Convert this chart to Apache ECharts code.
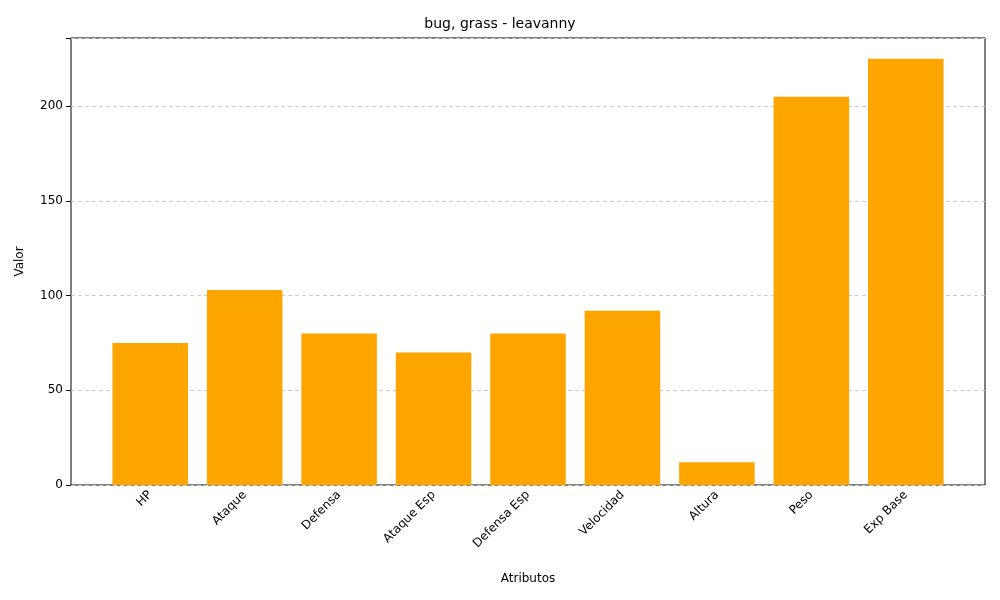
<!DOCTYPE html><html><head><meta charset="utf-8"><script src="https://cdn.jsdelivr.net/npm/echarts@6/dist/echarts.min.js"></script></head><body style="margin:0"><div id="c" style="width:1000px;height:600px"></div><script>
const categories=["HP","Ataque","Defensa","Ataque Esp","Defensa Esp","Velocidad","Altura","Peso","Exp Base"];
const values=[75,103,80,70,80,92,12,205,225];
const yTicks=[0,50,100,150,200];
const f='DejaVu Sans';
const ch=echarts.init(document.getElementById('c'));
ch.setOption({
title:{text:'bug, grass - leavanny',left:'center',top:12,textStyle:{fontFamily:f,fontSize:14,fontWeight:'normal',color:'#000'}},
grid:[{left:103,right:47,top:38,bottom:115},{left:71,right:15,top:38,bottom:115,show:true,borderColor:'#000',borderWidth:1}],
xAxis:[{type:'category',data:categories,gridIndex:0,axisLine:{show:false},axisTick:{alignWithLabel:true,length:5,lineStyle:{color:'#000'}},axisLabel:{rotate:45,fontFamily:f,fontSize:12,color:'#000',margin:8},name:'Atributos',nameLocation:'middle',nameGap:88,nameTextStyle:{fontFamily:f,fontSize:12,color:'#000'}},
{type:'category',gridIndex:1,data:[''],show:false}],
yAxis:[{type:'value',gridIndex:0,min:0,max:236,show:false},
{type:'value',gridIndex:1,min:0,max:236,interval:50,axisLine:{show:false},axisTick:{show:true,length:5,lineStyle:{color:'#000'}},axisLabel:{fontFamily:f,fontSize:12,color:'#000',formatter:v=>yTicks.includes(v)?v:''},splitLine:{lineStyle:{type:[4,3],color:'#ccc'}},name:'Valor',nameLocation:'middle',nameGap:45,nameTextStyle:{fontFamily:f,fontSize:12,color:'#000'}}],
series:[{type:'bar',data:values,xAxisIndex:0,yAxisIndex:0,barWidth:'80%',itemStyle:{color:'#FFA500'}}]
});
</script></body></html>
